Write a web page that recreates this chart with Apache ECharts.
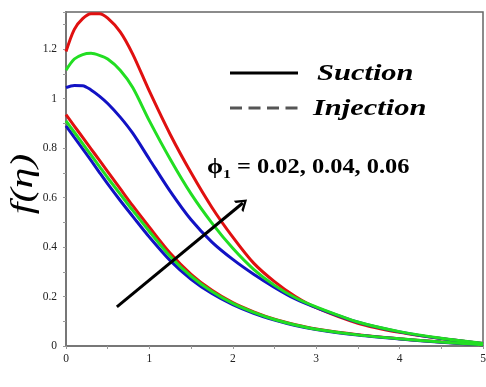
<!DOCTYPE html>
<html>
<head>
<meta charset="utf-8">
<script src="https://cdn.jsdelivr.net/npm/echarts@6/dist/echarts.min.js"></script>
<style>
  html, body { margin: 0; padding: 0; background: #fff; }
  #chart { width: 486px; height: 387px; }
</style>
</head>
<body>
<div id="chart"></div>
<script>
// similarity variable (denser near the wall)
const eta = [0, 0.1, 0.2, 0.3, 0.4, 0.5, 0.65, 0.8, 1.0, 1.25, 1.5, 1.75, 2.0, 2.25, 2.5, 2.75, 3.0, 3.5, 4.0, 4.5, 5.0];

// suction profiles, phi1 = 0.02 / 0.04 / 0.06
const suction002 = [1.044, 1.053, 1.052, 1.035, 1.01, 0.98, 0.925, 0.86, 0.755, 0.625, 0.51, 0.42, 0.35, 0.29, 0.237, 0.19, 0.155, 0.096, 0.057, 0.03, 0.01];
const suction004 = [1.115, 1.16, 1.178, 1.183, 1.175, 1.16, 1.115, 1.045, 0.91, 0.755, 0.615, 0.497, 0.395, 0.31, 0.245, 0.195, 0.158, 0.097, 0.058, 0.031, 0.01];
const suction006 = [1.19, 1.28, 1.323, 1.343, 1.343, 1.325, 1.27, 1.18, 1.03, 0.855, 0.70, 0.56, 0.44, 0.335, 0.26, 0.20, 0.155, 0.092, 0.055, 0.03, 0.01];

// injection profiles, phi1 = 0.02 / 0.04 / 0.06
const injection002 = [0.89, 0.843, 0.797, 0.75, 0.702, 0.655, 0.588, 0.524, 0.44, 0.345, 0.27, 0.212, 0.167, 0.132, 0.105, 0.083, 0.067, 0.044, 0.028, 0.015, 0.005];
const injection004 = [0.91, 0.864, 0.818, 0.772, 0.726, 0.68, 0.614, 0.548, 0.463, 0.362, 0.282, 0.22, 0.172, 0.136, 0.107, 0.085, 0.068, 0.045, 0.029, 0.016, 0.005];
const injection006 = [0.935, 0.889, 0.843, 0.797, 0.751, 0.705, 0.636, 0.567, 0.48, 0.375, 0.29, 0.225, 0.175, 0.138, 0.108, 0.086, 0.069, 0.046, 0.029, 0.016, 0.005];

// axis ticks
const xTicks = [0, 1, 2, 3, 4, 5];
const yTicks = [0, 0.2, 0.4, 0.6, 0.8, 1, 1.2];

// arrow showing increasing phi1
const arrowFrom = [0.61, 0.158];
const arrowTo = [2.12, 0.578];

const RED = '#e01010', GREEN = '#22de22', BLUE = '#1212c4';
const SERIF = 'Liberation Serif';

function pairs(ys) { return eta.map((x, i) => [x, ys[i]]); }

function curve(name, ys, color) {
  return {
    name: name, type: 'line', data: pairs(ys), smooth: 0.3,
    showSymbol: false, symbol: 'none', silent: true,
    lineStyle: { color: color, width: 3 }, z: 3
  };
}

const chart = echarts.init(document.getElementById('chart'), null, { renderer: 'canvas' });

chart.setOption({
  animation: false,
  backgroundColor: '#ffffff',
  grid: {
    left: 66, right: 3, top: 12, bottom: 41,
    outerBoundsMode: 'none', containLabel: false,
    show: true, borderColor: '#666', borderWidth: 1.5, backgroundColor: 'transparent'
  },
  xAxis: {
    type: 'value', min: 0, max: 5, interval: 1,
    axisLine: { show: true, lineStyle: { color: '#777', width: 2 } },
    axisTick: { show: true, length: 3, lineStyle: { color: '#999' } },
    minorTick: { show: true, splitNumber: 2, length: 3, lineStyle: { color: '#999' } },
    splitLine: { show: false },
    axisLabel: { fontFamily: SERIF, fontSize: 11.5, color: '#222', margin: 7,
      formatter: v => xTicks.includes(v) ? String(v) : '' }
  },
  yAxis: {
    type: 'value', min: 0, max: 1.35, interval: 0.2,
    axisLine: { show: true, lineStyle: { color: '#777', width: 2 } },
    axisTick: { show: true, length: 3, lineStyle: { color: '#999' } },
    minorTick: { show: true, splitNumber: 2, length: 3, lineStyle: { color: '#999' } },
    splitLine: { show: false },
    axisLabel: { fontFamily: SERIF, fontSize: 11.5, color: '#222', margin: 9, showMaxLabel: false,
      formatter: v => {
        const t = yTicks.find(k => Math.abs(k - v) < 1e-6);
        return t === undefined ? '' : String(t);
      } }
  },
  graphic: [
    // axis titles
    {
      type: 'text', x: 24, y: 184, rotation: Math.PI / 2, scaleX: 1.35,
      style: { text: 'f(η)', fontFamily: SERIF, fontStyle: 'italic', fontSize: 31, fill: '#000', align: 'center', verticalAlign: 'middle' }
    },
    {
      type: 'text', x: 276, y: 382,
      style: { text: 'η', fontFamily: SERIF, fontStyle: 'italic', fontWeight: 'bold', fontSize: 26, fill: '#000', align: 'center', verticalAlign: 'alphabetic' }
    },
    // line-style key
    { type: 'line', shape: { x1: 230, y1: 73, x2: 298, y2: 73 }, style: { stroke: '#000', lineWidth: 3 } },
    { type: 'line', shape: { x1: 230, y1: 108, x2: 298, y2: 108 }, style: { stroke: '#555', lineWidth: 3, lineDash: [12, 6.5] } },
    {
      type: 'text', x: 317, y: 74, scaleX: 1.27,
      style: { text: 'Suction', fontFamily: SERIF, fontStyle: 'italic', fontWeight: 'bold', fontSize: 24, fill: '#000', verticalAlign: 'middle' }
    },
    {
      type: 'text', x: 313, y: 109, scaleX: 1.27,
      style: { text: 'Injection', fontFamily: SERIF, fontStyle: 'italic', fontWeight: 'bold', fontSize: 24, fill: '#000', verticalAlign: 'middle' }
    },
    // parameter annotation
    {
      type: 'text', x: 207, y: 168, scaleX: 1.22, z: 10,
      style: {
        verticalAlign: 'middle',
        rich: {
          p: { fontFamily: SERIF, fontWeight: 'bold', fontSize: 21, fill: '#000' },
          s: { fontFamily: SERIF, fontWeight: 'bold', fontSize: 13, fill: '#000', padding: [13, 0, 0, 0] },
          v: { fontFamily: SERIF, fontWeight: 'bold', fontSize: 20, fill: '#000' }
        },
        text: '{p|ϕ}{s|1}{v| = 0.02, 0.04, 0.06}'
      }
    }
  ],
  series: [
    curve('s006', suction006, RED),
    curve('i006', injection006, RED),
    curve('s002', suction002, BLUE),
    curve('i002', injection002, BLUE),
    curve('s004', suction004, GREEN),
    curve('i004', injection004, GREEN),
    {
      name: 'arrow', type: 'line', data: [], silent: true,
      markLine: {
        silent: true,
        symbol: ['none', 'path://M0,10 L5,0 L10,10 L8,10 L5,3.6 L2,10 Z'],
        symbolSize: [15, 11], symbolOffset: [0, 0],
        label: { show: false },
        lineStyle: { color: '#000', width: 3, type: 'solid' },
        data: [[{ coord: arrowFrom }, { coord: arrowTo }]]
      }
    }
  ]
});
</script>
</body>
</html>
